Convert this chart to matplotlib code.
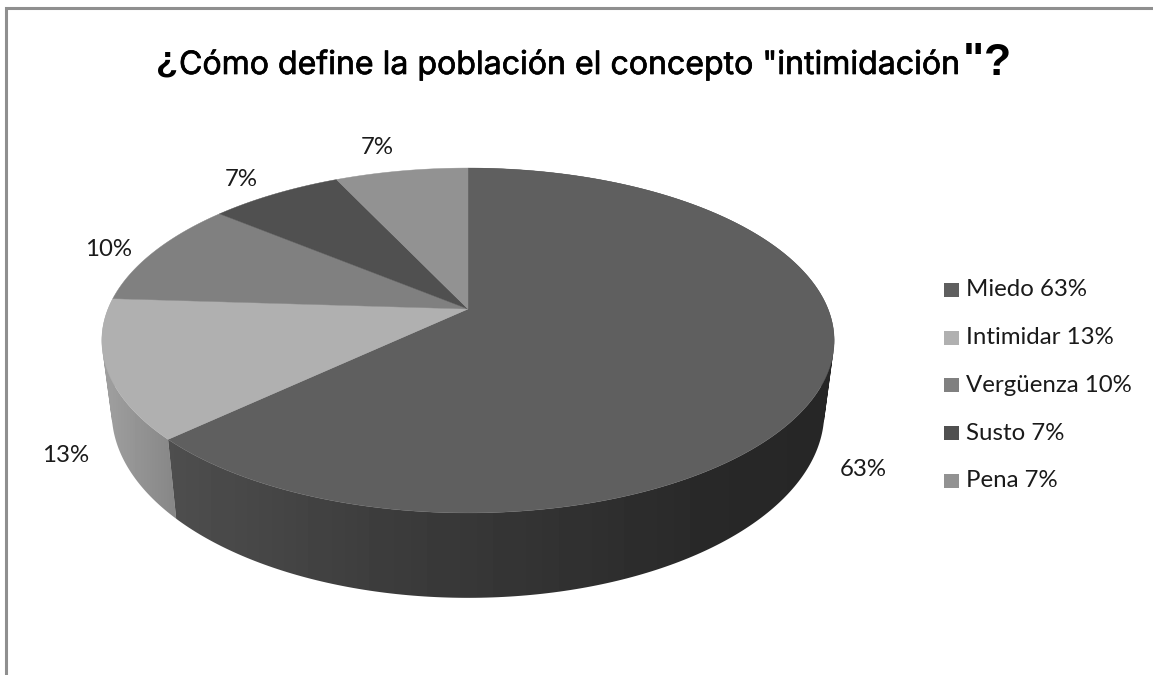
import numpy as np
import matplotlib
matplotlib.use("Agg")
import matplotlib.pyplot as plt
import matplotlib.patheffects as pe
from matplotlib.patches import Polygon, Rectangle, PathPatch
from matplotlib.path import Path

categories = ["Miedo", "Intimidar", "Vergüenza", "Susto", "Pena"]
shares = [63, 13, 10, 7, 7]
top_colors = ["#5f5f5f", "#b0b0b0", "#808080", "#505050", "#929292"]
title_main = "Cómo define la población el concepto \"intimidación"

# Perspective projection of the pie disc, in pixels
CX, CY = 468.0, 309.0
A, C, D = 166.7, 0.1826, 360.0
DEPTH, SHRINK = 69.4, 0.973


def project(frac):
    t = 2 * np.pi * np.asarray(frac)
    x, y = np.sin(t), np.cos(t)
    w = 1 + C * y
    return D * x / w, A * y / w, w


def top_pts(frac):
    x, y, _ = project(frac)
    return CX + x, CY - y


def bot_pts(frac):
    x, y, w = project(frac)
    return CX + SHRINK * x, CY - y + DEPTH / w


fig = plt.figure(figsize=(11.53, 6.75), dpi=100, facecolor="white")
ax = fig.add_axes([0, 0, 1, 1])
ax.axis("off")

# outer frame (only top and left are visible)
ax.plot([6, 6, 1153], [675, 8, 8], color="#8f8f8f", lw=2.2, solid_joinstyle="miter", zorder=1)

edges = np.cumsum([0] + shares) / sum(shares)


def side(f0, f1, xs, vals):
    f = np.linspace(f0, f1, 300)
    tx, ty = top_pts(f)
    bx, by = bot_pts(f)
    quads = []
    for i in range(len(f) - 1):
        q = np.array([(tx[i], ty[i]), (tx[i + 1], ty[i + 1]), (bx[i + 1], by[i + 1]), (bx[i], by[i])])
        area = np.sum(q[:, 0] * np.roll(q[:, 1], -1) - np.roll(q[:, 0], -1) * q[:, 1])
        quads.append(q if area >= 0 else q[::-1])
    clip = PathPatch(Path.make_compound_path_from_polys(np.array([np.vstack([q, q[0]]) for q in quads])),
                     transform=ax.transData, facecolor="none", edgecolor="none")
    ax.add_patch(clip)
    grid = np.arange(0, 1153)
    im = ax.imshow(np.interp(grid, xs, vals)[None, :], cmap="gray", vmin=0, vmax=255,
                   extent=(0, 1153, 675, 0), aspect="auto", zorder=2)
    im.set_clip_path(clip)


side(edges[1], edges[2], [102, 176], [160, 134])
side(edges[0], edges[1], [170, 390, 720, 835], [78, 60, 40, 38])

ax.set_xlim(0, 1153)
ax.set_ylim(675, 0)

for i, col in enumerate(top_colors):
    f = np.linspace(edges[i], edges[i + 1], 200)
    tx, ty = top_pts(f)
    pts = np.column_stack([np.r_[CX, tx], np.r_[CY, ty]])
    ax.add_patch(Polygon(pts, closed=True, facecolor=col, edgecolor=col, lw=0.3, zorder=3))

# data labels
label_pos = [(863, 469), (66, 455), (109, 250), (241, 180), (377, 147)]
for val, (x, y) in zip(shares, label_pos):
    ax.text(x, y, f"{val}%", ha="center", va="center", family="Lato", fontsize=17.3, color="#1a1a1a", zorder=5)

# legend
for i, (cat, val, col) in enumerate(zip(categories, shares, top_colors)):
    y = 283 + i * 47.7
    ax.add_patch(Rectangle((944, y), 15, 14, facecolor=col, edgecolor="none", zorder=5))
    ax.text(966, y + 7, f"{cat} {val}%", ha="left", va="center", family="Lato", fontsize=17.3, color="#1a1a1a", zorder=5)

# title
ax.text(156, 72, "¿", ha="left", va="baseline", fontsize=26, fontweight="bold", family="Liberation Sans", color="black", zorder=5)
main = ax.text(179, 74, title_main, ha="left", va="baseline", fontsize=22, family="Inter", color="black", zorder=5,
               path_effects=[pe.withStroke(linewidth=0.5, foreground="black")])
renderer = fig.canvas.get_renderer()
main.set_fontsize(22 * 781 / main.get_window_extent(renderer).width)
ax.text(963, 74, "\"", ha="left", va="baseline", fontsize=32, fontweight="bold", family="Liberation Sans", color="black", zorder=5)
ax.text(984, 75, "?", ha="left", va="baseline", fontsize=32, fontweight="bold", family="Liberation Sans", color="black", zorder=5)

fig.savefig("out.png", dpi=100)
